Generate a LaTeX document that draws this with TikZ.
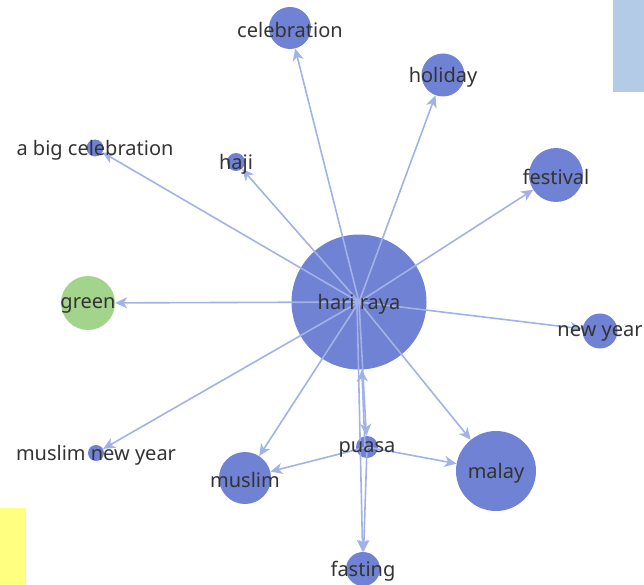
\documentclass[tikz,border=0pt]{standalone}
\usepackage{fontspec}
\setmainfont{Noto Sans}
\usetikzlibrary{arrows.meta}
\definecolor{nodeblue}{HTML}{6F82D4}
\definecolor{edgeblue}{HTML}{A3B2E6}
\definecolor{nodegreen}{HTML}{A2D48C}
\definecolor{boxblue}{HTML}{B3CBE6}
\definecolor{boxyellow}{HTML}{FFFF80}
\definecolor{labelgray}{HTML}{333333}
\tikzset{
  vtx/.style={circle, fill=nodeblue, draw=none, inner sep=0pt, minimum size=#1},
  gvtx/.style={circle, fill=nodegreen, draw=none, inner sep=0pt, minimum size=#1},
  lbl/.style={text=labelgray, font=\fontsize{20}{22}\selectfont, inner sep=0pt, yshift=-2pt},
  edge/.style={draw=edgeblue, line width=1.6pt, -{Stealth[length=12pt,width=11pt,inset=3.5pt]}}
}
\begin{document}
\begin{tikzpicture}[x=1pt,y=-1pt]
\useasboundingbox (0,0) rectangle (644,585);
\fill[boxblue] (613,0) rectangle (644,92);
\fill[boxyellow] (0,508) rectangle (26,585);
% vertices
\node[vtx=135pt] (hr) at (359,302) {};
\node[vtx=42pt] (cel) at (290,28) {};
\node[vtx=43pt] (hol) at (443,75) {};
\node[vtx=17pt] (abc) at (95,148) {};
\node[vtx=18pt] (haji) at (236,162) {};
\node[vtx=54pt] (fes) at (556,175) {};
\node[gvtx=54pt] (grn) at (88,303) {};
\node[vtx=35pt] (ny) at (600,331) {};
\node[vtx=16pt] (mny) at (96,453) {};
\node[vtx=22pt] (pua) at (367,447) {};
\node[vtx=52pt] (mus) at (245,478) {};
\node[vtx=80pt] (mal) at (496,471) {};
\node[vtx=34pt] (fas) at (363,569) {};
% edges
\draw[edge] (hr.center) -- (cel);
\draw[edge] (hr.center) -- (hol);
\draw[edge] (hr.center) -- (abc);
\draw[edge] (hr.center) -- (haji);
\draw[edge] (hr.center) -- (fes);
\draw[edge] (hr.center) -- (grn);
\draw[edge] (hr.center) -- (ny);
\draw[edge] (hr.center) -- (mny);
\draw[edge] (hr.center) -- (mus);
\draw[edge] (hr.center) -- (mal);
\draw[edge] (hr.center) -- (pua);
\draw[edge] ([xshift=-2pt]hr.center) -- (fas);
\draw[edge] ([xshift=-2pt]pua.center) -- (hr);
\draw[edge] (pua.center) -- (mus);
\draw[edge] (pua.center) -- (mal);
\draw[edge] (pua.center) -- (fas);
% labels
\node[lbl] (hr-l) at (hr) {hari raya};
\node[lbl] (cel-l) at (cel) {celebration};
\node[lbl] (hol-l) at (hol) {holiday};
\node[lbl] (abc-l) at (abc) {a big celebration};
\node[lbl] (haji-l) at (haji) {haji};
\node[lbl] (fes-l) at (fes) {festival};
\node[lbl] (grn-l) at (grn) {green};
\node[lbl] (ny-l) at (ny) {new year};
\node[lbl] (mny-l) at (mny) {muslim new year};
\node[lbl] (pua-l) at (pua) {puasa};
\node[lbl] (mus-l) at (mus) {muslim};
\node[lbl] (mal-l) at (mal) {malay};
\node[lbl] (fas-l) at (fas) {fasting};
\end{tikzpicture}
\end{document}
